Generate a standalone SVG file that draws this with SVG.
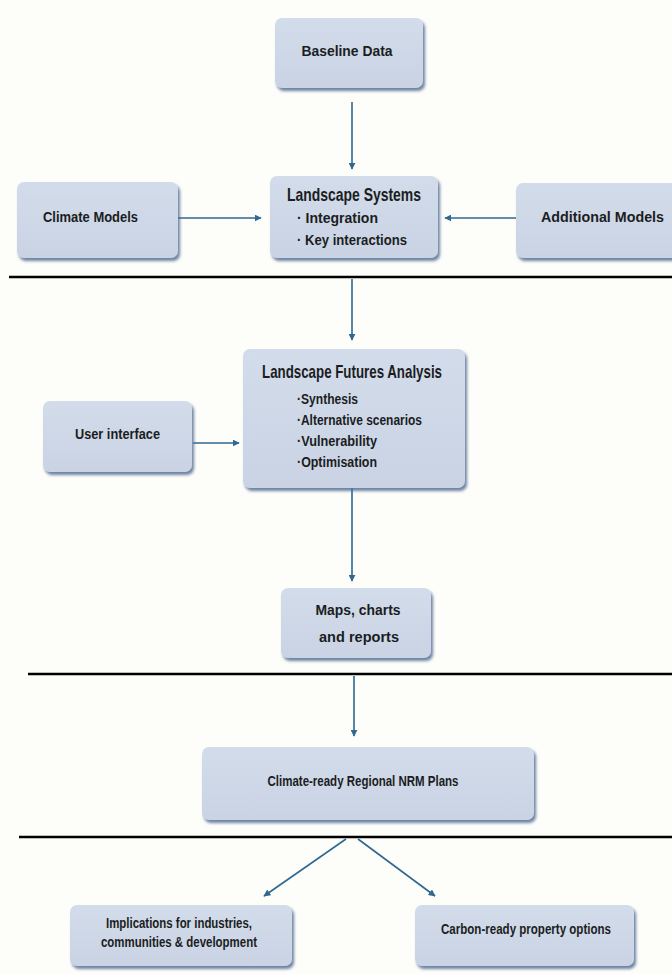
<svg xmlns="http://www.w3.org/2000/svg" width="672" height="974" viewBox="0 0 672 974">
<defs>
<filter id="sh" x="-10%" y="-10%" width="125%" height="130%">
<feDropShadow dx="2" dy="3" stdDeviation="1.5" flood-color="#536d94" flood-opacity="0.85"/>
</filter>
<linearGradient id="bg" x1="0" y1="0" x2="0" y2="1">
<stop offset="0" stop-color="#d3dcea"/>
<stop offset="1" stop-color="#c9d3e4"/>
</linearGradient>
<marker id="ah" viewBox="0 0 10 10" refX="9" refY="5" markerWidth="7" markerHeight="7" markerUnits="userSpaceOnUse" orient="auto">
<path d="M0,0 L10,5 L0,10 Z" fill="#2f6891"/>
</marker>
</defs>
<style>
.box{fill:url(#bg);filter:url(#sh)}
.t{font-family:"Liberation Sans Narrow","Liberation Sans",Arial,sans-serif;font-weight:bold;fill:#1b1d22;font-size:15px}
.ti{font-size:19px}
.sm{font-size:14px}
.c{stroke:#2f6891;stroke-width:1.6;fill:none;marker-end:url(#ah)}
.sep{stroke:#000;stroke-width:2.5}
</style>
<rect width="672" height="974" fill="#fdfdfa"/>
<g id="separators">
<line class="sep" x1="9" y1="277" x2="672" y2="277"/>
<line class="sep" x1="28" y1="674" x2="672" y2="674"/>
<line class="sep" x1="19" y1="837" x2="672" y2="837"/>
</g>
<g id="connectors">
<line class="c" x1="352" y1="102" x2="352" y2="169"/>
<line class="c" x1="178" y1="218" x2="261" y2="218"/>
<line class="c" x1="516" y1="218" x2="445" y2="218"/>
<line class="c" x1="352" y1="279" x2="352" y2="340"/>
<line class="c" x1="193" y1="443" x2="239" y2="443"/>
<line class="c" x1="352" y1="488" x2="352" y2="581"/>
<line class="c" x1="354" y1="676" x2="354" y2="736"/>
<line class="c" x1="346" y1="839" x2="264" y2="896"/>
<line class="c" x1="358" y1="839" x2="435" y2="896"/>
</g>
<g id="baseline-data">
<rect class="box" x="275" y="18" width="148" height="70" rx="7"/>
<text class="t" x="347" y="56" text-anchor="middle" textLength="91" lengthAdjust="spacingAndGlyphs">Baseline Data</text>
</g>
<g id="landscape-systems">
<rect class="box" x="270" y="176" width="168" height="82" rx="7"/>
<text class="t ti" x="287" y="201" textLength="134" lengthAdjust="spacingAndGlyphs">Landscape Systems</text>
<text class="t" x="297" y="223" textLength="81" lengthAdjust="spacingAndGlyphs">· Integration</text>
<text class="t" x="297" y="245" textLength="110" lengthAdjust="spacingAndGlyphs">· Key interactions</text>
</g>
<g id="climate-models">
<rect class="box" x="17" y="182" width="161" height="76" rx="7"/>
<text class="t" x="43" y="222" textLength="95" lengthAdjust="spacingAndGlyphs">Climate Models</text>
</g>
<g id="additional-models">
<rect class="box" x="516" y="183" width="166" height="75" rx="7"/>
<text class="t" x="541" y="222" textLength="123" lengthAdjust="spacingAndGlyphs">Additional Models</text>
</g>
<g id="landscape-futures-analysis">
<rect class="box" x="243" y="349" width="222" height="139" rx="7"/>
<text class="t ti" x="262" y="378" textLength="180" lengthAdjust="spacingAndGlyphs">Landscape Futures Analysis</text>
<text class="t sm" x="297" y="404" textLength="61" lengthAdjust="spacingAndGlyphs">·Synthesis</text>
<text class="t sm" x="297" y="425" textLength="125" lengthAdjust="spacingAndGlyphs">·Alternative scenarios</text>
<text class="t sm" x="297" y="446" textLength="80" lengthAdjust="spacingAndGlyphs">·Vulnerability</text>
<text class="t sm" x="297" y="467" textLength="80" lengthAdjust="spacingAndGlyphs">·Optimisation</text>
</g>
<g id="user-interface">
<rect class="box" x="43" y="401" width="149" height="71" rx="7"/>
<text class="t" x="75" y="439" textLength="85" lengthAdjust="spacingAndGlyphs">User interface</text>
</g>
<g id="maps-charts-reports">
<rect class="box" x="281" y="588" width="150" height="70" rx="7"/>
<text class="t" x="358" y="615" text-anchor="middle" textLength="85" lengthAdjust="spacingAndGlyphs">Maps, charts</text>
<text class="t" x="359" y="642" text-anchor="middle" textLength="80" lengthAdjust="spacingAndGlyphs">and reports</text>
</g>
<g id="nrm-plans">
<rect class="box" x="202" y="747" width="332" height="73" rx="7"/>
<text class="t" x="363" y="786" text-anchor="middle" textLength="191" lengthAdjust="spacingAndGlyphs">Climate-ready Regional NRM Plans</text>
</g>
<g id="implications">
<rect class="box" x="70" y="905" width="222" height="61" rx="7"/>
<text class="t sm" x="179" y="928" text-anchor="middle" textLength="146" lengthAdjust="spacingAndGlyphs">Implications for industries,</text>
<text class="t sm" x="179" y="947" text-anchor="middle" textLength="156" lengthAdjust="spacingAndGlyphs">communities &amp; development</text>
</g>
<g id="carbon-ready">
<rect class="box" x="415" y="905" width="219" height="61" rx="7"/>
<text class="t sm" x="526" y="934" text-anchor="middle" textLength="170" lengthAdjust="spacingAndGlyphs">Carbon-ready property options</text>
</g>
</svg>
